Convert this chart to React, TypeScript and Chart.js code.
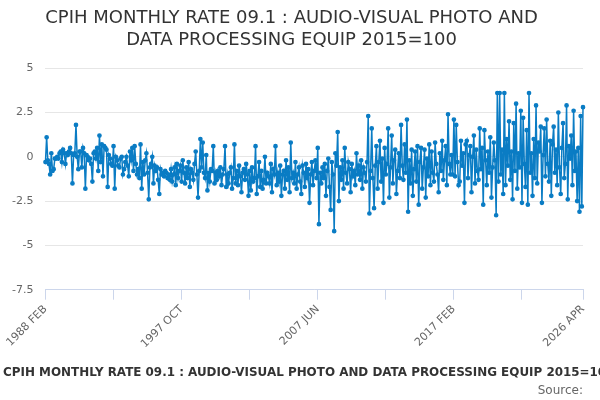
import React, { useEffect, useRef } from "react";
import { Chart, registerables } from "chart.js";
Chart.register(...registerables);

const MONTHS = ["JAN","FEB","MAR","APR","MAY","JUN","JUL","AUG","SEP","OCT","NOV","DEC"];
const startYear = 1988, startMonth = 1, count = 459;
const categories: string[] = [];
for (let i = 0; i < count; i++) {
  const m = startMonth + i;
  categories.push(`${startYear + Math.floor(m / 12)} ${MONTHS[m % 12]}`);
}

const values: number[] = [
  -0.3,1.1,-0.2,-0.4,-1.0,0.2,-0.8,-0.7,-0.1,-0.1,0.0,
  -0.1,0.2,0.3,-0.3,0.4,0.2,-0.4,0.2,0.1,0.3,0.5,0.2,
  -1.5,0.1,0.2,1.8,0.0,-0.7,0.3,0.3,-0.6,0.5,0.2,-1.8,
  0.1,0.0,-0.2,-0.1,-0.4,-1.4,0.2,0.3,-0.1,0.5,-0.8,1.2,
  -0.3,0.7,-1.1,0.6,0.5,0.4,-1.7,0.1,-0.1,-0.4,-0.5,0.6,
  -1.8,0.0,-0.2,-0.5,-0.6,-0.1,0.0,-1.0,-0.7,-0.3,0.0,-0.5,
  -1.1,0.3,-0.2,0.5,-0.8,0.6,-0.4,-1.0,-0.7,-1.2,0.7,-1.8,
  -0.3,-1.0,-0.2,0.2,-0.9,-2.4,-0.6,-0.4,0.0,-1.5,-0.5,-0.8,
  -0.6,-1.3,-2.1,-0.7,-1.0,-0.9,-1.1,-0.8,-0.9,-1.2,-1.0,-1.3,
  -0.7,-1.4,-1.0,-0.6,-1.6,-0.4,-1.2,-0.8,-0.5,-1.4,-0.2,-0.9,
  -1.5,-0.6,-1.2,-0.3,-1.7,-0.7,-0.9,-1.3,-0.4,0.3,-1.0,-2.3,
  -0.8,1.0,-0.6,0.8,-0.9,-1.2,0.1,-1.9,-0.9,-1.4,-0.7,-0.8,
  0.6,-1.5,-0.9,-1.3,-0.8,-1.1,-0.6,-1.6,-1.0,-0.7,0.6,-1.7,
  -1.0,-1.5,-0.9,-0.6,-1.8,-1.2,0.7,-1.5,-0.8,-1.6,-0.5,-1.1,
  -2.0,-0.9,-0.7,-1.3,-0.4,-1.0,-2.2,-0.8,-1.9,-0.6,-1.4,-1.2,
  0.6,-2.1,-1.1,-0.3,-1.7,-0.8,-1.8,-1.3,0.0,-1.5,-0.9,-1.1,
  -1.5,-0.4,-2.0,-0.7,-1.0,0.6,-1.6,-0.9,-1.4,-0.5,-2.2,-1.0,
  -0.8,-1.8,-0.2,-1.3,-0.6,-2.0,0.8,-1.2,-0.9,-1.5,-0.3,-1.8,
  -1.0,-0.6,-1.4,-2.1,-0.5,-0.9,-1.7,-0.4,-1.2,-0.7,-2.6,-1.0,
  -0.3,-1.6,-0.8,-0.2,-1.2,0.5,-3.8,-0.9,-1.5,-0.6,-1.2,-0.4,
  -2.2,-0.8,-0.1,-1.7,-3.0,-0.3,-1.0,-4.2,0.2,-0.5,1.4,-2.5,
  -0.6,-1.3,-0.2,-1.8,0.5,-0.9,-1.5,-0.3,-0.7,-2.0,-0.4,-1.1,
  -0.8,-1.6,0.2,-1.0,-0.5,-1.3,-0.2,-1.8,-0.6,-0.9,-1.4,-0.3,
  2.3,-3.2,-0.8,1.6,-1.2,-2.9,-0.5,0.6,-1.8,-0.3,0.9,-1.4,
  -0.1,-2.6,0.5,-1.0,-0.4,1.6,-2.3,-0.6,1.2,-1.5,-0.2,0.4,
  -2.1,-0.8,0.2,-1.2,1.8,-0.5,-1.3,0.7,-0.9,2.1,-3.1,-0.2,
  -1.5,0.4,-2.2,-0.7,0.3,-1.4,0.6,-2.7,-0.3,0.5,-1.8,-0.6,
  0.4,-2.3,-0.1,-1.1,0.7,-1.6,0.3,-0.9,-1.4,0.8,-0.4,-1.0,
  -2.0,0.2,-0.8,0.9,-1.3,-0.2,0.6,-1.6,2.4,-0.4,-1.0,0.1,
  -1.0,2.1,-1.1,1.8,-0.3,-1.6,-1.4,0.9,-0.5,0.2,-2.6,0.7,
  0.9,-1.2,0.1,0.6,-2.0,0.0,1.2,-1.5,0.4,-0.8,-1.3,1.6,
  -0.7,0.5,-2.7,1.5,-0.2,-1.6,0.3,-0.9,1.1,-2.3,-0.6,0.8,
  -0.2,-3.3,3.6,-1.4,3.6,-1.0,0.4,-2.1,3.6,-1.6,1.0,-0.5,
  2.0,-1.3,0.3,-2.4,1.9,-0.8,3.0,-1.8,0.2,-0.6,2.6,-2.6,
  2.2,-0.4,-1.7,1.5,-2.7,3.6,-0.9,0.2,-2.2,1.0,-1.2,2.9,
  -1.5,0.8,0.3,1.7,-2.6,0.1,1.6,-1.1,2.1,-0.4,-1.4,0.9,
  -2.2,0.7,1.7,-0.9,0.4,-1.6,2.5,-0.6,-2.1,0.5,1.9,-1.2,
  -0.4,2.9,-2.4,0.6,-0.1,1.2,-1.6,2.6,-0.8,0.3,-2.5,0.5,
  -3.1,2.3,-2.8,2.8,
];

const TITLE = ["CPIH MONTHLY RATE 09.1 : AUDIO-VISUAL PHOTO AND", "DATA PROCESSING EQUIP 2015=100"];
const AXIS_TITLE = "CPIH MONTHLY RATE 09.1 : AUDIO-VISUAL PHOTO AND DATA PROCESSING EQUIP 2015=100";
const FONT = "'DejaVu Sans', sans-serif";

const axisTitlePlugin = {
  id: "axisTitleText",
  afterDraw(chart: any) {
    const ctx = chart.ctx;
    ctx.save();
    ctx.font = `bold 12px ${FONT}`;
    const w12 = ctx.measureText(AXIS_TITLE).width;
    const size = 12 * 612 / w12;
    ctx.font = `bold ${size}px ${FONT}`;
    ctx.fillStyle = "#333";
    ctx.textAlign = "left";
    ctx.textBaseline = "middle";
    ctx.fillText(AXIS_TITLE, 3, 373);
    ctx.restore();
  },
};

export default function App() {
  const ref = useRef<HTMLCanvasElement>(null);
  useEffect(() => {
    document.body.style.margin = "0";
    const last = categories.length - 1;
    const chart = new Chart(ref.current!, {
      type: "line",
      data: {
        labels: categories,
        datasets: [{
          data: values,
          borderColor: "#0a7cc4",
          backgroundColor: "#0a7cc4",
          borderWidth: 1.5,
          pointRadius: 1.6,
          pointHoverRadius: 1.6,
          tension: 0,
        }],
      },
      options: {
        animation: false,
        responsive: false,
        layout: { padding: { left: 0, right: 17, top: 0, bottom: 0 } },
        plugins: {
          legend: { display: false },
          tooltip: { enabled: false },
          title: {
            display: true, text: TITLE, color: "#333",
            font: { family: FONT, size: 18, weight: "normal" }, padding: { top: 8, bottom: 17 },
          },
          subtitle: {
            display: true, text: "Source:", position: "bottom", align: "end", color: "#666",
            font: { family: FONT, size: 12 }, padding: { top: 30, bottom: 2 },
          },
        },
        scales: {
          x: {
            offset: false,
            grid: { drawOnChartArea: false, drawTicks: true, color: "#ccd6eb", tickLength: 10 },
            border: { color: "#ccd6eb" },
            ticks: {
              autoSkip: false, maxRotation: 45, minRotation: 45, color: "#666",
              font: { family: FONT, size: 11 },
              callback: (_v: any, i: number) => {
                if (i === last || i % 116 === 0) return categories[i];
                if (i % 58 === 0) return "";
                return null as any;
              },
            },
          },
          y: {
            min: -7.5, max: 5,
            grid: { color: "#e6e6e6", drawTicks: false },
            border: { display: false },
            ticks: { stepSize: 2.5, color: "#666", padding: 12, font: { family: FONT, size: 11 } },
          },
        },
      },
      plugins: [axisTitlePlugin],
    });
    return () => chart.destroy();
  }, []);
  return <div style={{ width: 600, height: 400 }}><canvas ref={ref} width={600} height={400} /></div>;
}
